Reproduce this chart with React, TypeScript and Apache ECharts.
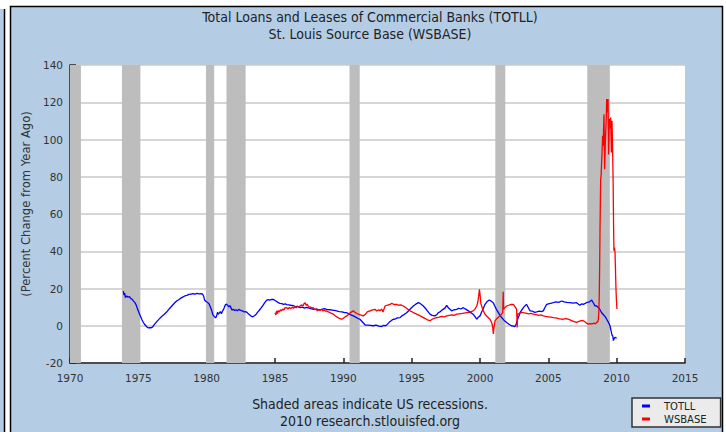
import React, { useEffect, useRef } from "react";
import * as echarts from "echarts";

const titleLines = ["Total Loans and Leases of Commercial Banks (TOTLL)", "St. Louis Source Base (WSBASE)"];
const footLines = ["Shaded areas indicate US recessions.", "2010 research.stlouisfed.org"];
const yAxisName = "(Percent Change from Year Ago)";
const seriesNames = ["TOTLL", "WSBASE"];

const recessionStart = [1970.0, 1973.8, 1979.95, 1981.45, 1990.45, 2001.12, 2007.85];
const recessionEnd = [1970.8, 1975.15, 1980.55, 1982.85, 1991.2, 2001.85, 2009.5];

const totllYears = [
  1973.9, 1973.95, 1974.0, 1974.05, 1974.15, 1974.25, 1974.35, 1974.45, 1974.55, 1974.65, 1974.75, 1974.85, 1974.95,
  1975.05, 1975.15, 1975.25, 1975.35, 1975.45, 1975.55, 1975.65, 1975.75, 1975.85, 1975.95, 1976.05, 1976.15, 1976.3,
  1976.45, 1976.6, 1976.75, 1976.9, 1977.05, 1977.2, 1977.35, 1977.5, 1977.65, 1977.8, 1977.95, 1978.1, 1978.25,
  1978.4, 1978.55, 1978.7, 1978.85, 1979.0, 1979.15, 1979.3, 1979.45, 1979.6, 1979.7, 1979.78, 1979.85, 1979.95,
  1980.05, 1980.15, 1980.25, 1980.35, 1980.45, 1980.55, 1980.65, 1980.72, 1980.8, 1980.85, 1980.92, 1981.0, 1981.08,
  1981.15, 1981.22, 1981.3, 1981.38, 1981.46, 1981.55, 1981.62, 1981.7, 1981.78, 1981.86, 1981.95, 1982.05, 1982.15,
  1982.25, 1982.35, 1982.45, 1982.55, 1982.65, 1982.75, 1982.85, 1982.95, 1983.05, 1983.15, 1983.25, 1983.37, 1983.5,
  1983.62, 1983.75, 1983.88, 1984.0, 1984.12, 1984.25, 1984.38, 1984.5, 1984.62, 1984.75, 1984.88, 1985.0, 1985.12,
  1985.24, 1985.36, 1985.5, 1985.62, 1985.75, 1985.85, 1986.0, 1986.15, 1986.34, 1986.5, 1986.65, 1986.83, 1987.0,
  1987.15, 1987.3, 1987.45, 1987.6, 1987.75, 1987.9, 1988.05, 1988.2, 1988.4, 1988.6, 1988.78, 1989.0, 1989.2,
  1989.35, 1989.5, 1989.7, 1989.9, 1990.1, 1990.25, 1990.4, 1990.55, 1990.73, 1990.9, 1991.05, 1991.22, 1991.4,
  1991.6, 1991.8, 1992.0, 1992.2, 1992.4, 1992.6, 1992.8, 1992.95, 1993.1, 1993.25, 1993.4, 1993.55, 1993.66, 1993.8,
  1993.95, 1994.15, 1994.3, 1994.45, 1994.63, 1994.8, 1994.95, 1995.12, 1995.3, 1995.5, 1995.65, 1995.85, 1996.0,
  1996.15, 1996.34, 1996.5, 1996.7, 1996.85, 1996.95, 1997.1, 1997.3, 1997.45, 1997.56, 1997.7, 1997.93, 1998.1,
  1998.3, 1998.45, 1998.6, 1998.78, 1998.95, 1999.15, 1999.3, 1999.5, 1999.65, 1999.76, 1999.88, 2000.0, 2000.12,
  2000.25, 2000.37, 2000.52, 2000.68, 2000.82, 2000.97, 2001.08, 2001.2, 2001.38, 2001.58, 2001.75, 2001.95, 2002.12,
  2002.3, 2002.45, 2002.56, 2002.65, 2002.75, 2002.85, 2002.93, 2003.05, 2003.2, 2003.4, 2003.5, 2003.66, 2003.85,
  2004.0, 2004.15, 2004.35, 2004.5, 2004.63, 2004.75, 2004.88, 2005.0, 2005.15, 2005.37, 2005.55, 2005.75, 2005.98,
  2006.15, 2006.34, 2006.58, 2006.8, 2007.07, 2007.3, 2007.45, 2007.56, 2007.7, 2007.85, 2008.0, 2008.17, 2008.3,
  2008.41, 2008.54, 2008.66, 2008.78, 2008.9, 2009.05, 2009.17, 2009.27, 2009.4, 2009.51, 2009.6, 2009.66, 2009.72,
  2009.76, 2009.82, 2009.88, 2009.95, 2010.0,
];
const totllValues = [
  18.6, 16.5, 17.5, 15.2, 16.0, 15.3, 15.6, 14.6, 14.2, 13.2, 12.4, 11.0, 8.8,
  7.0, 5.2, 3.5, 2.0, 0.8, 0.0, -0.8, -1.2, -1.0, -1.1, -0.6, 0.5, 1.8,
  3.0, 4.2, 5.3, 6.2, 7.2, 8.5, 9.8, 11.0, 12.2, 13.3, 14.0, 14.8, 15.4,
  16.0, 16.3, 16.8, 17.0, 17.2, 17.0, 17.4, 17.1, 17.3, 17.0, 15.8, 13.8, 13.0,
  12.6, 12.0, 10.5, 8.6, 6.0, 5.0, 4.3, 5.0, 7.3, 6.2, 6.8, 7.6, 6.5,
  7.8, 8.5, 10.0, 11.4, 11.6, 10.8, 10.2, 10.8, 9.6, 8.4, 8.9, 8.2, 8.6,
  8.0, 8.8, 8.4, 8.1, 7.8, 7.5, 7.6, 7.2, 6.4, 5.8, 5.2, 4.8, 5.4,
  6.2, 7.4, 8.6, 9.7, 11.0, 12.4, 13.6, 14.0, 13.8, 14.1, 14.2, 13.6, 13.0,
  12.4, 12.0, 11.9, 11.5, 11.8, 11.4, 11.2, 11.0, 10.8, 10.2, 10.4, 9.7, 10.0,
  9.5, 9.8, 9.6, 9.2, 9.0, 8.8, 9.0, 8.6, 8.8, 9.2, 8.8, 8.6, 8.4,
  8.2, 8.0, 7.6, 7.5, 7.0, 7.0, 6.4, 5.8, 5.3, 4.6, 4.0, 3.5, 2.0,
  0.4, 0.3, 0.2, 0.0, 0.3, -0.2, -0.4, 0.2, 0.0, 1.0, 2.2, 3.0, 3.5, 3.6,
  4.2, 4.4, 5.4, 6.0, 7.0, 8.2, 9.4, 10.6, 11.6, 12.4, 11.8, 10.6, 9.4,
  8.0, 6.2, 5.6, 5.3, 6.0, 7.0, 7.6, 8.8, 9.6, 11.0, 9.5, 8.0, 8.6,
  8.8, 9.4, 9.0, 9.7, 8.9, 8.0, 7.2, 6.2, 4.8, 3.5, 4.6, 5.3, 7.4,
  9.4, 11.5, 13.0, 13.8, 13.2, 12.4, 10.6, 8.8, 6.6, 4.4, 3.0, 1.8, 0.8,
  0.0, -0.2, -0.4, 0.9, 3.5, 5.2, 7.0, 8.4, 10.0, 11.5, 10.2, 8.0, 7.8,
  7.2, 7.4, 7.8, 7.6, 8.0, 9.8, 11.5, 11.8, 12.0, 12.4, 12.8, 12.6, 13.3,
  12.8, 12.5, 12.4, 12.2, 12.4, 11.0, 11.8, 11.5, 12.0, 12.6, 12.8, 13.8, 12.2,
  10.7, 10.6, 9.8, 8.6, 7.0, 5.8, 4.8, 3.5, 1.8, 0.0, -3.0, -5.0, -5.6,
  -8.0, -6.8, -6.2, -6.6, -6.4,
];

const wsbaseYears = [
  1985.0, 1985.06, 1985.12, 1985.18, 1985.25, 1985.32, 1985.4, 1985.48, 1985.56, 1985.64, 1985.72, 1985.85, 1985.95,
  1986.05, 1986.15, 1986.25, 1986.35, 1986.45, 1986.55, 1986.65, 1986.75, 1986.83, 1986.95, 1987.05, 1987.12, 1987.2,
  1987.28, 1987.35, 1987.42, 1987.5, 1987.6, 1987.7, 1987.8, 1987.9, 1988.0, 1988.1, 1988.2, 1988.3, 1988.4, 1988.5,
  1988.6, 1988.7, 1988.78, 1988.9, 1989.0, 1989.1, 1989.27, 1989.4, 1989.55, 1989.7, 1989.88, 1990.0, 1990.1, 1990.25,
  1990.4, 1990.55, 1990.73, 1990.85, 1991.0, 1991.1, 1991.25, 1991.46, 1991.6, 1991.75, 1991.95, 1992.1, 1992.3,
  1992.45, 1992.6, 1992.68, 1992.8, 1992.9, 1993.05, 1993.2, 1993.41, 1993.55, 1993.7, 1993.9, 1994.05, 1994.2,
  1994.39, 1994.55, 1994.7, 1994.88, 1995.05, 1995.2, 1995.37, 1995.55, 1995.7, 1995.85, 1996.0, 1996.15, 1996.34,
  1996.5, 1996.65, 1996.83, 1997.0, 1997.2, 1997.4, 1997.56, 1997.75, 1997.95, 1998.1, 1998.3, 1998.5, 1998.7,
  1998.85, 1999.02, 1999.2, 1999.35, 1999.5, 1999.62, 1999.76, 1999.85, 1999.9, 1999.96, 2000.0, 2000.06, 2000.12,
  2000.22, 2000.37, 2000.52, 2000.65, 2000.73, 2000.82, 2000.9, 2000.93, 2000.98, 2001.02, 2001.1, 2001.22, 2001.35,
  2001.46, 2001.58, 2001.66, 2001.7, 2001.72, 2001.8, 2001.95, 2002.1, 2002.25, 2002.44, 2002.58, 2002.68, 2002.72,
  2002.76, 2002.9, 2003.05, 2003.17, 2003.35, 2003.55, 2003.75, 2003.9, 2004.1, 2004.3, 2004.45, 2004.63, 2004.8,
  2005.0, 2005.2, 2005.37, 2005.55, 2005.75, 2005.95, 2006.1, 2006.3, 2006.5, 2006.7, 2006.9, 2007.07, 2007.25,
  2007.4, 2007.56, 2007.7, 2007.8, 2007.93, 2008.05, 2008.2, 2008.35, 2008.45, 2008.54, 2008.62, 2008.66, 2008.7,
  2008.73, 2008.76, 2008.78, 2008.81, 2008.83, 2008.86, 2008.9, 2008.94, 2008.97, 2009.01, 2009.04, 2009.07, 2009.1,
  2009.12, 2009.15, 2009.17, 2009.2, 2009.22, 2009.25, 2009.27, 2009.3, 2009.32, 2009.35, 2009.37, 2009.39, 2009.41,
  2009.44, 2009.46, 2009.49, 2009.51, 2009.54, 2009.56, 2009.59, 2009.61, 2009.64, 2009.66, 2009.69, 2009.71, 2009.74,
  2009.76, 2009.78, 2009.8, 2009.84, 2009.88, 2009.92, 2009.95, 2009.98, 2010.02,
];
const wsbaseValues = [
  7.0, 5.8, 8.0, 6.6, 8.2, 7.4, 8.6, 8.0, 9.0, 8.4, 9.6, 9.7, 9.0,
  9.8, 9.2, 10.0, 9.4, 10.2, 9.6, 10.4, 10.0, 10.6, 11.2, 10.6, 11.8, 12.4,
  11.0, 11.6, 10.6, 10.2, 10.0, 9.6, 9.7, 8.6, 9.0, 8.0, 8.6, 8.2, 8.8, 8.0,
  8.4, 7.8, 8.0, 7.4, 7.2, 6.8, 6.2, 5.4, 4.6, 4.0, 3.5, 4.0, 4.6, 5.3,
  6.2, 7.2, 8.0, 7.2, 6.6, 6.2, 5.8, 5.3, 6.0, 7.4, 8.0, 8.4, 8.8,
  8.0, 8.6, 8.0, 9.0, 7.4, 10.6, 11.0, 11.5, 12.0, 11.4, 11.5, 11.0, 11.2,
  10.6, 9.8, 9.0, 8.0, 7.4, 6.8, 6.2, 5.6, 5.0, 4.4, 3.8, 3.2, 2.7,
  3.5, 4.0, 4.4, 4.6, 5.0, 4.8, 5.3, 5.6, 5.8, 5.6, 6.2, 6.4, 6.6,
  6.8, 7.0, 7.2, 7.6, 8.0, 8.8, 10.6, 13.0, 15.9, 19.5, 17.0, 12.0, 10.6,
  8.4, 6.2, 5.0, 4.0, 3.5, 2.2, 0.5, -0.9, -4.4, -1.0, 2.7, 3.8, 4.6,
  5.3, 6.2, 7.0, 18.3, 8.8, 9.6, 10.6, 11.0, 11.4, 11.5, 10.0, 8.8, -0.9,
  6.2, 6.6, 7.2, 7.0, 6.8, 6.4, 6.6, 6.2, 6.0, 5.6, 5.8, 5.3, 5.0,
  4.8, 4.6, 4.4, 4.2, 3.8, 3.6, 3.5, 3.8, 3.4, 2.8, 2.2, 1.8, 2.4,
  2.8, 2.7, 2.0, 1.4, 0.9, 1.2, 1.0, 1.4, 1.0, 1.8, 2.2, 3.6, 8.0,
  17.9, 35.0, 50.0, 68.0, 78.7, 80.5, 88.0, 95.0, 102.0, 96.6, 105.0, 113.6, 100.0,
  84.0, 92.0, 98.4, 104.0, 107.3, 115.0, 121.7, 118.0, 114.5, 119.0, 121.7, 105.0, 92.0,
  102.0, 111.0, 106.0, 107.0, 110.0, 111.8, 100.0, 93.0, 104.0, 110.0, 100.0, 91.3, 78.0,
  63.5, 50.0, 40.3, 42.0, 39.4, 28.0, 19.7, 14.0, 9.0,
];

const FONT = "DejaVu Sans";
const FONT_C = "'DejaVu Sans Condensed', 'DejaVu Sans'";
const PANEL = "#b4cde5";

export default function App() {
  const ref = useRef<HTMLDivElement>(null);

  useEffect(() => {
    if (!ref.current) return;
    const chart = echarts.init(ref.current, null, { renderer: "svg" });
    const recessions = recessionStart.map((s, i) => [s, recessionEnd[i]]);
    const totll = totllYears.map((y, i) => [y, totllValues[i]]);
    const wsbase = wsbaseYears.map((y, i) => [y, wsbaseValues[i]]);

    chart.setOption({
      animation: false,
      backgroundColor: "#ffffff",
      textStyle: { fontFamily: FONT },
      graphic: [
        { type: "rect", silent: true, z: -10, shape: { x: 0, y: 9, width: 4.5, height: 430 }, style: { fill: PANEL } },
        { type: "line", silent: true, z: -9, shape: { x1: 4.5, y1: 9, x2: 4.5, y2: 432 }, style: { stroke: "#000", lineWidth: 1.5 } },
        { type: "rect", silent: true, z: -10, shape: { x: 10.5, y: 6.5, width: 712, height: 440 }, style: { fill: PANEL, stroke: "#000", lineWidth: 1.5 } },
      ],
      title: [
        {
          text: titleLines.join("\n"),
          left: 370,
          top: 8,
          textAlign: "center",
          padding: 0,
          textStyle: { fontFamily: FONT_C, fontSize: 14, fontWeight: "normal", color: "#222", lineHeight: 17 },
        },
        {
          text: footLines.join("\n"),
          left: 370,
          top: 395,
          textAlign: "center",
          padding: 0,
          textStyle: { fontFamily: FONT_C, fontSize: 14, fontWeight: "normal", color: "#222", lineHeight: 17 },
        },
      ],
      legend: {
        data: seriesNames,
        orient: "vertical",
        left: 632,
        top: 398,
        backgroundColor: "#ebebeb",
        borderColor: "#333",
        borderWidth: 1.5,
        borderRadius: 0,
        padding: [3, 14, 3, 10],
        itemWidth: 8,
        itemHeight: 3,
        itemGap: 3,
        icon: "rect",
        textStyle: { fontFamily: FONT, fontSize: 10, color: "#222", padding: [0, 0, 0, 9] },
      },
      grid: {
        left: 70, top: 65, width: 615, height: 298, containLabel: false, outerBoundsMode: "none",
        show: true, backgroundColor: "#ffffff", borderWidth: 0,
      },
      xAxis: {
        type: "value",
        min: 1970,
        max: 2015,
        interval: 5,
        axisLine: { show: true, onZero: false, lineStyle: { color: "#222", width: 1.5 } },
        axisTick: { show: true, inside: true, length: 5, lineStyle: { color: "#222", width: 1.5 } },
        axisLabel: { color: "#333", fontFamily: FONT, fontSize: 10.5, margin: 9, formatter: (v: number) => String(v) },
        splitLine: { show: false },
      },
      yAxis: {
        type: "value",
        min: -20,
        max: 140,
        interval: 20,
        name: yAxisName,
        nameLocation: "middle",
        nameGap: 36,
        nameTextStyle: { fontFamily: FONT, fontSize: 11.6, color: "#333", padding: [0, 0, 0, 20] },
        axisLine: { show: true, lineStyle: { color: "#222", width: 1.5 } },
        axisTick: { show: true, inside: true, length: 6, lineStyle: { color: "#222", width: 1.5 } },
        axisLabel: { color: "#333", fontFamily: FONT, fontSize: 10.5, margin: 7 },
        splitLine: { show: true, lineStyle: { color: "#c8c8c8", width: 1.5 } },
      },
      series: [
        {
          type: "custom",
          name: "recessions",
          z: 1,
          silent: true,
          clip: true,
          data: recessions,
          renderItem: (params: any, api: any) => {
            const p0 = api.coord([api.value(0), 140]);
            const p1 = api.coord([api.value(1), -20]);
            return {
              type: "rect",
              shape: { x: p0[0], y: p0[1], width: p1[0] - p0[0], height: p1[1] - p0[1] },
              style: { fill: "#bdbdbd" },
            };
          },
        },
        {
          type: "line",
          name: seriesNames[0],
          data: totll,
          z: 3,
          showSymbol: false,
          color: "#0000ff",
          lineStyle: { color: "#0000ff", width: 1.3 },
        },
        {
          type: "line",
          name: seriesNames[1],
          data: wsbase,
          z: 4,
          showSymbol: false,
          color: "#ff0000",
          lineStyle: { color: "#ff0000", width: 1.3 },
        },
      ],
    });
    return () => chart.dispose();
  }, []);

  return <div ref={ref} style={{ position: "absolute", left: 0, top: 0, width: 726, height: 432 }} />;
}
